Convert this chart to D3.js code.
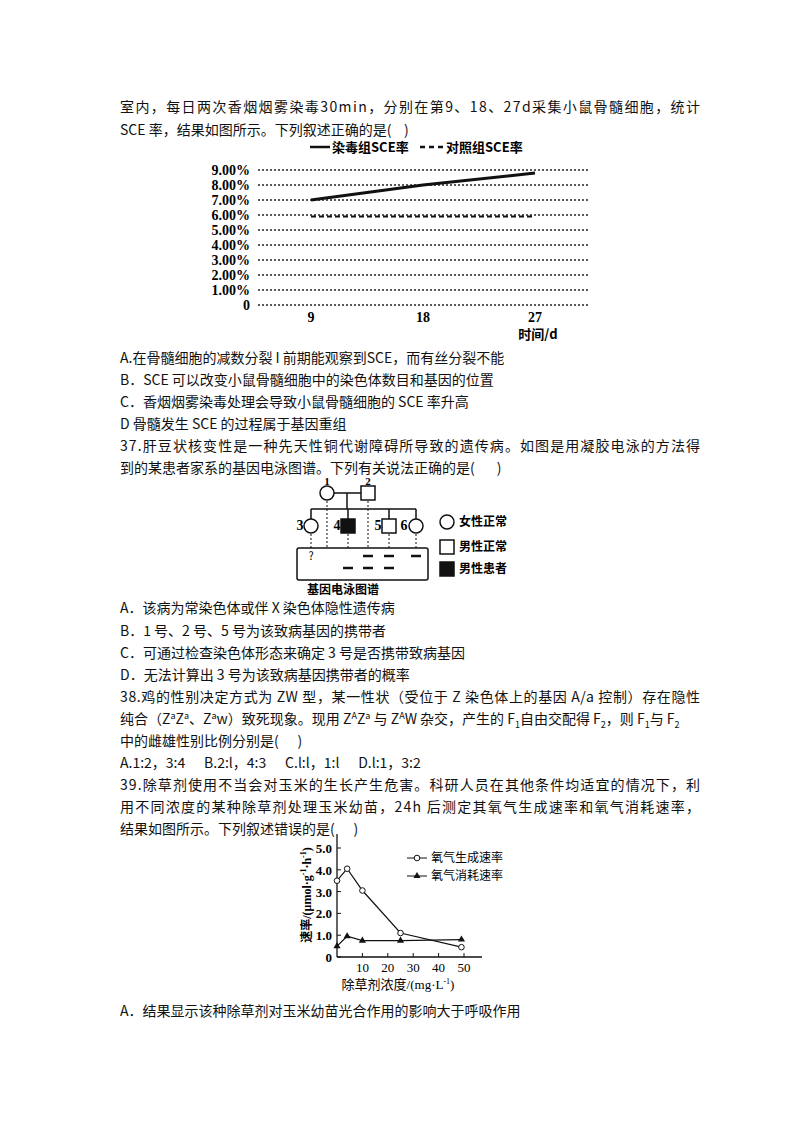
<!DOCTYPE html>
<html><head><meta charset="utf-8">
<script src="https://cdn.jsdelivr.net/npm/d3@7"></script>
<style>body{margin:0;background:#fff} text{white-space:pre}</style>
</head><body>
<svg id="page" width="800" height="1132"></svg>
<script>
var svg = d3.select("#page");
var font = "'Noto Sans CJK SC', 'Noto Sans', sans-serif";

// ---- data ----
var sceDays = [9, 18, 27];
var sceExposed = [7.0, 8.0, 8.8];
var sceControl = [5.9, 5.9, 5.9];
var sceTicks = [0, 1, 2, 3, 4, 5, 6, 7, 8, 9];

var herbConc = [0, 4, 10, 25, 49];
var o2Produce = [3.5, 4.05, 3.05, 1.1, 0.45];
var o2Consume = [0.5, 0.95, 0.75, 0.75, 0.8];
var herbYTicks = [0, 1, 2, 3, 4, 5];
var herbXTicks = [10, 20, 30, 40, 50];

// [y, text, stretch to full width?]
var lines = [
  [107, "室内，每日两次香烟烟雾染毒30min，分别在第9、18、27d采集小鼠骨髓细胞，统计", 1],
  [130, "SCE 率，结果如图所示。下列叙述正确的是(    )"],
  [358, "A.在骨髓细胞的减数分裂 I 前期能观察到SCE，而有丝分裂不能"],
  [380, "B．SCE 可以改变小鼠骨髓细胞中的染色体数目和基因的位置"],
  [402, "C．香烟烟雾染毒处理会导致小鼠骨髓细胞的 SCE 率升高"],
  [424, "D 骨髓发生 SCE 的过程属于基因重组"],
  [446, "37.肝豆状核变性是一种先天性铜代谢障碍所导致的遗传病。如图是用凝胶电泳的方法得", 1],
  [468, "到的某患者家系的基因电泳图谱。下列有关说法正确的是(       )"],
  [608, "A．该病为常染色体或伴 X 染色体隐性遗传病"],
  [631, "B．1 号、2 号、5 号为该致病基因的携带者"],
  [653, "C．可通过检查染色体形态来确定 3 号是否携带致病基因"],
  [675, "D．无法计算出 3 号为该致病基因携带者的概率"],
  [697, "38.鸡的性别决定方式为 ZW 型，某一性状（受位于 Z 染色体上的基因 A/a 控制）存在隐性", 1],
  [741, "中的雌雄性别比例分别是(      )"],
  [763, "A.1:2，3:4      B.2:l，4:3      C.l:l，1:l      D.l:1，3:2"],
  [785, "39.除草剂使用不当会对玉米的生长产生危害。科研人员在其他条件均适宜的情况下，利", 1],
  [807, "用不同浓度的某种除草剂处理玉米幼苗，24h 后测定其氧气生成速率和氧气消耗速率，", 1],
  [829, "结果如图所示。下列叙述错误的是(      )"],
  [1011, "A．结果显示该种除草剂对玉米幼苗光合作用的影响大于呼吸作用"]
];
svg.selectAll("text.body").data(lines).enter().append("text")
  .attr("class", "body").attr("x", 120).attr("y", function(d){ return d[0] + 5; })
  .attr("font-family", font).attr("font-size", "14px").attr("fill", "#111")
  .attr("textLength", function(d){ return d[2] ? 580 : null; })
  .text(function(d){ return d[1]; });

// line with superscripts / subscripts
var l38 = svg.append("text").attr("x", 120).attr("y", 724)
  .attr("font-family", font).attr("font-size", "14px").attr("fill", "#111");
[["纯合（Z",""],["a","sup"],["Z",""],["a","sup"],["、Z",""],["a","sup"],["w）致死现象。现用 Z",""],["A","sup"],["Z",""],["a","sup"],
 [" 与 Z",""],["A","sup"],["W 杂交，产生的 F",""],["1","sub"],["自由交配得 F",""],["2","sub"],["，则 F",""],["1","sub"],["与 F",""],["2","sub"]]
.forEach(function(p){
  var t = l38.append("tspan").text(p[0]);
  if (p[1] == "sup") t.attr("font-size", "9px").attr("dy", -5);
  if (p[1] == "sub") t.attr("font-size", "9px").attr("dy", 4);
  if (p[1]) l38.append("tspan").attr("font-size", "14px").attr("dy", p[1] == "sup" ? 5 : -4).text("\u200b");
});

// ---- chart 1: SCE rate ----
var x1 = d3.scaleLinear().domain([9, 27]).range([311, 535]);
var y1 = d3.scaleLinear().domain([0, 9]).range([305, 170]);
var c1 = svg.append("g").attr("font-family", "'Liberation Serif', serif").attr("font-weight", "bold");
c1.selectAll("line.grid").data(sceTicks).enter().append("line")
  .attr("x1", 258).attr("x2", 588).attr("y1", function(d){ return y1(d); }).attr("y2", function(d){ return y1(d); })
  .attr("stroke", "#222").attr("stroke-width", 1.3).attr("stroke-dasharray", "2,2");
c1.selectAll("text.yt").data(sceTicks).enter().append("text")
  .attr("x", 250).attr("y", function(d){ return y1(d) + 5; }).attr("text-anchor", "end")
  .attr("font-size", "14px").text(function(d){ return d == 0 ? "0" : d.toFixed(2) + "%"; });
c1.selectAll("text.xt").data(sceDays).enter().append("text")
  .attr("x", function(d){ return x1(d); }).attr("y", 322).attr("text-anchor", "middle")
  .attr("font-size", "14px").text(function(d){ return d; });
c1.append("text").attr("x", 538).attr("y", 339).attr("text-anchor", "middle")
  .attr("font-size", "13px").attr("font-family", font).text("时间/d");
var ln1 = d3.line().x(function(d, i){ return x1(sceDays[i]); }).y(function(d){ return y1(d); });
c1.append("path").attr("d", ln1(sceExposed)).attr("fill", "none").attr("stroke", "#111").attr("stroke-width", 3);
c1.append("path").attr("d", ln1(sceControl)).attr("fill", "none").attr("stroke", "#111")
  .attr("stroke-width", 2).attr("stroke-dasharray", "5,3");
c1.append("line").attr("x1", 310).attr("x2", 330).attr("y1", 147).attr("y2", 147).attr("stroke", "#111").attr("stroke-width", 2.5);
c1.append("text").attr("x", 332).attr("y", 152).attr("font-family", font).attr("font-size", "13px").text("染毒组SCE率");
c1.append("line").attr("x1", 420).attr("x2", 444).attr("y1", 147).attr("y2", 147).attr("stroke", "#111")
  .attr("stroke-width", 2.5).attr("stroke-dasharray", "5,4");
c1.append("text").attr("x", 446).attr("y", 152).attr("font-family", font).attr("font-size", "13px").text("对照组SCE率");

// ---- pedigree ----
var pg = svg.append("g").attr("stroke", "#111").attr("stroke-width", 1.5).attr("fill", "none");
var people = [
  {id: "1", x: 327, y: 493, t: "f", lx: 327, ly: 485},
  {id: "2", x: 368, y: 493, t: "m", lx: 368, ly: 485},
  {id: "3", x: 311, y: 526, t: "f", lx: 300, ly: 530},
  {id: "4", x: 348, y: 526, t: "a", lx: 337, ly: 530},
  {id: "5", x: 389, y: 526, t: "m", lx: 378, ly: 530},
  {id: "6", x: 416, y: 526, t: "f", lx: 404, ly: 530}
];
pg.append("line").attr("x1", 334).attr("x2", 361).attr("y1", 493).attr("y2", 493);
pg.append("line").attr("x1", 347).attr("x2", 347).attr("y1", 493).attr("y2", 509);
pg.append("line").attr("x1", 311).attr("x2", 416).attr("y1", 509).attr("y2", 509);
[311, 348, 389, 416].forEach(function(x){
  pg.append("line").attr("x1", x).attr("x2", x).attr("y1", 509).attr("y2", 519);
});
people.forEach(function(p){
  if (p.t == "f") pg.append("circle").attr("cx", p.x).attr("cy", p.y).attr("r", 7).attr("fill", "#fff");
  else pg.append("rect").attr("x", p.x - 7).attr("y", p.y - 7).attr("width", 14).attr("height", 14)
    .attr("fill", p.t == "a" ? "#111" : "#fff");
  svg.append("text").attr("x", p.lx).attr("y", p.ly).attr("text-anchor", "middle")
    .attr("font-family", "'Liberation Serif', serif").attr("font-weight", "bold")
    .attr("font-size", p.y < 500 ? "11px" : "14px").text(p.id);
});
pg.append("rect").attr("x", 297).attr("y", 548).attr("width", 131).attr("height", 32).attr("rx", 2);
people.forEach(function(p){
  pg.append("line").attr("x1", p.x).attr("x2", p.x).attr("y1", p.y + 8).attr("y2", 548)
    .attr("stroke-width", 1).attr("stroke-dasharray", "2,2");
});
var bands = [[368, 556], [389, 556], [416, 556], [348, 568], [368, 568], [389, 568]];
bands.forEach(function(b){
  pg.append("line").attr("x1", b[0] - 5).attr("x2", b[0] + 5).attr("y1", b[1]).attr("y2", b[1]).attr("stroke-width", 2.5);
});
svg.append("text").attr("x", 311).attr("y", 560).attr("text-anchor", "middle").attr("font-size", "11px")
  .attr("font-family", font).text("?");
svg.append("text").attr("x", 343).attr("y", 594).attr("text-anchor", "middle").attr("font-size", "12px")
  .attr("font-family", font).attr("font-weight", "bold").text("基因电泳图谱");
pg.append("circle").attr("cx", 447).attr("cy", 522).attr("r", 7);
pg.append("rect").attr("x", 440).attr("y", 540).attr("width", 14).attr("height", 14);
pg.append("rect").attr("x", 440).attr("y", 562).attr("width", 14).attr("height", 14).attr("fill", "#111");
[["女性正常", 526], ["男性正常", 551], ["男性患者", 573]].forEach(function(d){
  svg.append("text").attr("x", 459).attr("y", d[1]).attr("font-size", "12px").attr("font-family", font)
    .attr("font-weight", "bold").text(d[0]);
});

// ---- chart 3: herbicide ----
var x3 = d3.scaleLinear().domain([0, 50]).range([337, 464]);
var y3 = d3.scaleLinear().domain([0, 5]).range([957, 848]);
var c3 = svg.append("g").attr("font-family", "'Liberation Serif', serif");
c3.append("line").attr("x1", 337).attr("x2", 337).attr("y1", 834).attr("y2", 957).attr("stroke", "#111").attr("stroke-width", 1.3);
c3.append("line").attr("x1", 337).attr("x2", 482).attr("y1", 957).attr("y2", 957).attr("stroke", "#111").attr("stroke-width", 1.3);
c3.selectAll("line.yt").data(herbYTicks).enter().append("line")
  .attr("x1", 337).attr("x2", 341).attr("y1", function(d){ return y3(d); }).attr("y2", function(d){ return y3(d); }).attr("stroke", "#111");
c3.selectAll("line.xt").data(herbXTicks).enter().append("line")
  .attr("x1", function(d){ return x3(d); }).attr("x2", function(d){ return x3(d); }).attr("y1", 957).attr("y2", 953).attr("stroke", "#111");
c3.selectAll("text.yl").data(herbYTicks).enter().append("text")
  .attr("x", 332).attr("y", function(d){ return y3(d) + 5; }).attr("text-anchor", "end").attr("font-size", "13px")
  .attr("font-weight", "bold").text(function(d){ return d == 0 ? "0" : d.toFixed(1); });
c3.selectAll("text.xl").data(herbXTicks).enter().append("text")
  .attr("x", function(d){ return x3(d); }).attr("y", 972).attr("text-anchor", "middle").attr("font-size", "13px")
  .text(function(d){ return d; });
c3.append("text").attr("x", 398).attr("y", 989).attr("text-anchor", "middle").attr("font-size", "13px")
  .html("<tspan font-family=\"'Noto Sans CJK SC'\">除草剂浓度</tspan>/(mg·L<tspan font-size='8px' dy='-5'>-1</tspan><tspan dy='5'>)</tspan>");
c3.append("text").attr("transform", "translate(311,895) rotate(-90)").attr("text-anchor", "middle").attr("font-size", "12px")
  .attr("font-weight", "bold")
  .html("<tspan font-family=\"'Noto Sans CJK SC'\">速率</tspan>/(μmol·g<tspan font-size='8px' dy='-5'>-1</tspan><tspan dy='5'>·h</tspan><tspan font-size='8px' dy='-5'>-1</tspan><tspan dy='5'>)</tspan>");
var ln3 = d3.line().x(function(d, i){ return x3(herbConc[i]); }).y(function(d){ return y3(d); });
c3.append("path").attr("d", ln3(o2Produce)).attr("fill", "none").attr("stroke", "#111").attr("stroke-width", 1.2);
c3.append("path").attr("d", ln3(o2Consume)).attr("fill", "none").attr("stroke", "#111").attr("stroke-width", 1.2);
c3.selectAll("circle.p").data(o2Produce).enter().append("circle")
  .attr("cx", function(d, i){ return x3(herbConc[i]); }).attr("cy", function(d){ return y3(d); })
  .attr("r", 2.8).attr("fill", "#fff").attr("stroke", "#111");
var tri = d3.symbol().type(d3.symbolTriangle).size(22);
c3.selectAll("path.c").data(o2Consume).enter().append("path").attr("d", tri)
  .attr("transform", function(d, i){ return "translate(" + x3(herbConc[i]) + "," + y3(d) + ")"; }).attr("fill", "#111");
c3.append("line").attr("x1", 407).attr("x2", 427).attr("y1", 858).attr("y2", 858).attr("stroke", "#111");
c3.append("circle").attr("cx", 417).attr("cy", 858).attr("r", 2.8).attr("fill", "#fff").attr("stroke", "#111");
c3.append("line").attr("x1", 407).attr("x2", 427).attr("y1", 876).attr("y2", 876).attr("stroke", "#111");
c3.append("path").attr("d", tri).attr("transform", "translate(417,876)").attr("fill", "#111");
c3.append("text").attr("x", 431).attr("y", 862).attr("font-family", font).attr("font-size", "12px").text("氧气生成速率");
c3.append("text").attr("x", 431).attr("y", 880).attr("font-family", font).attr("font-size", "12px").text("氧气消耗速率");
</script>
</body></html>
